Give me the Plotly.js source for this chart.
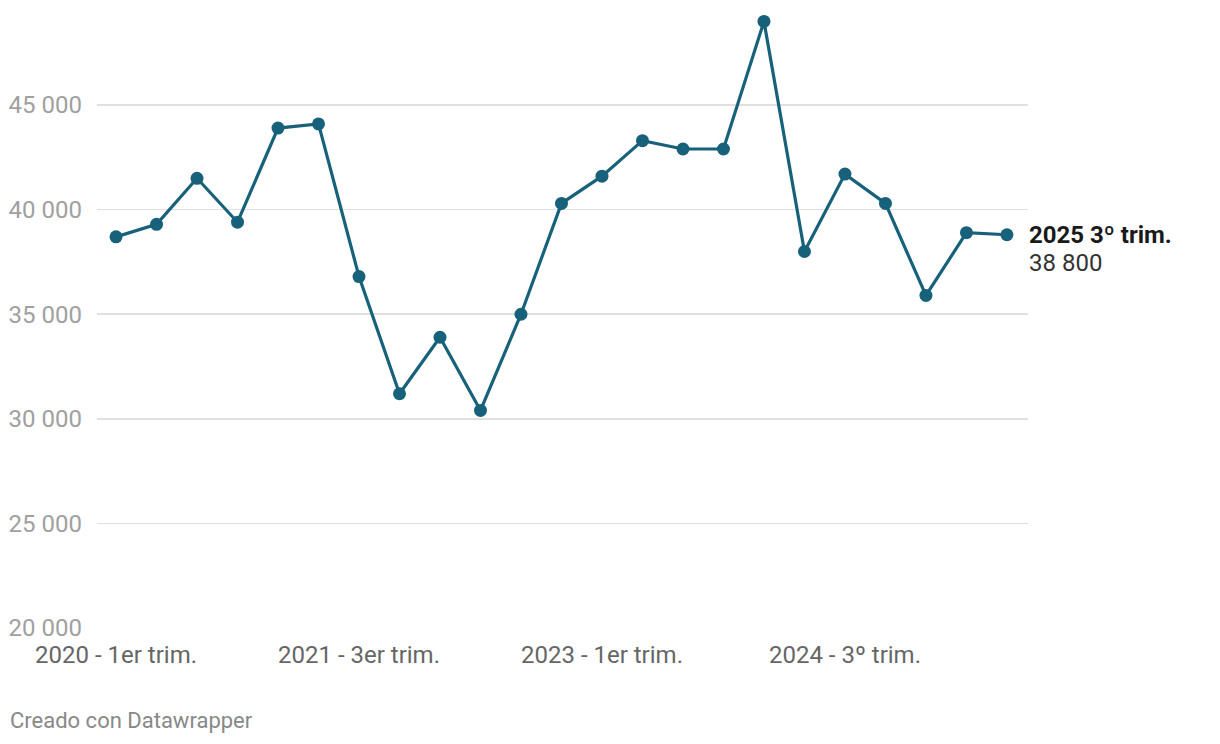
<!DOCTYPE html>
<html>
<head>
<meta charset="utf-8">
<script src="https://cdn.plot.ly/plotly-3.0.1.min.js"></script>
<style>html,body{margin:0;padding:0;background:#fff;}#chart{width:1220px;height:744px;}</style>
</head>
<body>
<div id="chart"></div>
<script>
const quarters = ["2020 - 1er trim.","2020 - 2º trim.","2020 - 3er trim.","2020 - 4º trim.",
  "2021 - 1er trim.","2021 - 2º trim.","2021 - 3er trim.","2021 - 4º trim.",
  "2022 - 1er trim.","2022 - 2º trim.","2022 - 3er trim.","2022 - 4º trim.",
  "2023 - 1er trim.","2023 - 2º trim.","2023 - 3er trim.","2023 - 4º trim.",
  "2024 - 1er trim.","2024 - 2º trim.","2024 - 3º trim.","2024 - 4º trim.",
  "2025 1er trim.","2025 2º trim.","2025 3º trim."];
const values = [38700,39300,41500,39400,43900,44100,36800,31200,33900,30400,35000,40300,
  41600,43300,42900,42900,49000,38000,41700,40300,35900,38900,38800];
const xTickIdx = [0,6,12,18];
const xTickText = ["2020 - 1er trim.","2021 - 3er trim.","2023 - 1er trim.","2024 - 3º trim."];
const yTickVals = [20000,25000,30000,35000,40000,45000];
const yTickText = ["20 000","25 000","30 000","35 000","40 000","45 000"];
const lastLabel = "2025 3º trim.";
const lastValueText = "38 800";

const idx = values.map((v,i)=>i);
const last = values.length-1;

const trace = {
  x: idx, y: values, text: quarters, type: 'scatter', mode: 'lines+markers',
  line: {color:'#17617a', width:3.2},
  marker: {color:'#17617a', size:13},
  hoverinfo:'text+y'
};

const layout = {
  width:1220, height:744,
  margin:{l:97, r:192, t:10, b:116},
  paper_bgcolor:'#fff', plot_bgcolor:'#fff',
  font:{family:'Roboto, sans-serif'},
  showlegend:false,
  xaxis:{range:[-0.47,22.52], tickvals:xTickIdx, ticktext:xTickText, showgrid:false, zeroline:false,
    showline:false, ticks:'', tickfont:{size:24,color:'#666666'}, ticklabelstandoff:10, fixedrange:true},
  yaxis:{range:[20000,49545], tickvals:yTickVals, ticktext:yTickText, showgrid:true, gridcolor:'#e0e0e0',
    gridwidth:1.5, zeroline:false, showline:false, ticks:'', tickfont:{size:24,color:'#a0a0a0'},
    ticklabelstandoff:14, fixedrange:true},
  annotations:[
    {x:last, y:values[last], xref:'x', yref:'y', text:'<b>'+lastLabel+'</b>', showarrow:false,
     xanchor:'left', yanchor:'middle', xshift:20, yshift:0, font:{size:24,color:'#1a1a1a'}},
    {x:last, y:values[last], xref:'x', yref:'y', text:lastValueText, showarrow:false,
     xanchor:'left', yanchor:'middle', xshift:20, yshift:-28, font:{size:24,color:'#333333'}},
    {x:0, y:0, xref:'paper', yref:'paper', text:'Creado con Datawrapper', showarrow:false,
     xanchor:'left', yanchor:'middle', xshift:-89, yshift:-92, font:{size:22,color:'#888888'}}
  ]
};

Plotly.newPlot('chart',[trace],layout,{displayModeBar:false,staticPlot:true});
</script>
</body>
</html>
